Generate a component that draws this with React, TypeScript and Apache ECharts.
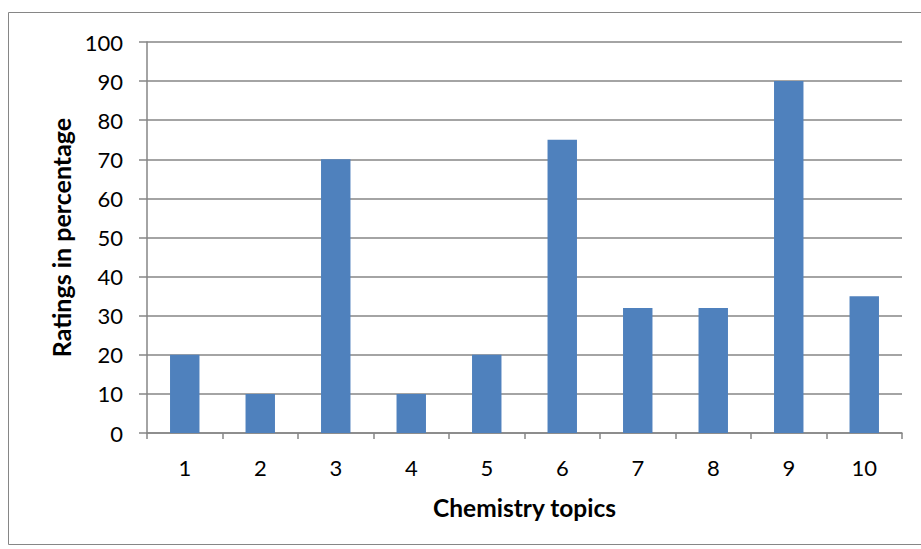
import React, { useEffect, useRef } from "react";
import * as echarts from "echarts";

const categories = ["1", "2", "3", "4", "5", "6", "7", "8", "9", "10"];
const ratings = [20, 10, 70, 10, 20, 75, 32, 32, 90, 35];
const yTicks = { min: 0, max: 100, interval: 10 };
const xTitle = "Chemistry topics";
const yTitle = "Ratings in percentage";

const FONT = "Lato, 'Open Sans', sans-serif";
const GRAY = "#868686";

export default function App() {
  const ref = useRef<HTMLDivElement>(null);
  useEffect(() => {
    const chart = echarts.init(ref.current!, null, { renderer: "svg" });
    chart.setOption({
      animation: false,
      backgroundColor: "#ffffff",
      graphic: [
        {
          type: "rect",
          shape: { x: 8.5, y: 12.5, width: 1000, height: 532 },
          style: { fill: "none", stroke: GRAY, lineWidth: 1 },
          silent: true,
        },
      ],
      grid: { left: 147, right: 19, top: 42, bottom: 116, containLabel: false },
      xAxis: {
        type: "category",
        data: categories,
        boundaryGap: true,
        name: xTitle,
        nameLocation: "middle",
        nameGap: 62,
        nameTextStyle: { fontFamily: FONT, fontSize: 24.5, fontWeight: "bold", color: "#000" },
        axisLine: { show: true, lineStyle: { color: GRAY, width: 1.5 } },
        axisTick: { show: true, length: 6, alignWithLabel: false, lineStyle: { color: GRAY, width: 1.5 } },
        axisLabel: { fontFamily: FONT, fontSize: 22, color: "#000", margin: 23 },
        splitLine: { show: false },
      },
      yAxis: {
        type: "value",
        min: yTicks.min,
        max: yTicks.max,
        interval: yTicks.interval,
        name: yTitle,
        nameLocation: "middle",
        nameGap: 73,
        nameTextStyle: { fontFamily: FONT, fontSize: 25, fontWeight: "bold", color: "#000" },
        axisLine: { show: true, lineStyle: { color: GRAY, width: 1.5 } },
        axisTick: { show: true, length: 8, inside: false, lineStyle: { color: GRAY, width: 1.5 } },
        axisLabel: { fontFamily: FONT, fontSize: 22, color: "#000", margin: 24 },
        splitLine: { show: true, lineStyle: { color: GRAY, width: 1.5 } },
      },
      series: [
        {
          type: "bar",
          data: ratings,
          barWidth: "39%",
          itemStyle: { color: "#4F81BD" },
        },
      ],
    });
    return () => chart.dispose();
  }, []);
  return (
    <div
      ref={ref}
      style={{ position: "absolute", left: 0, top: 0, width: 921, height: 549 }}
    />
  );
}
